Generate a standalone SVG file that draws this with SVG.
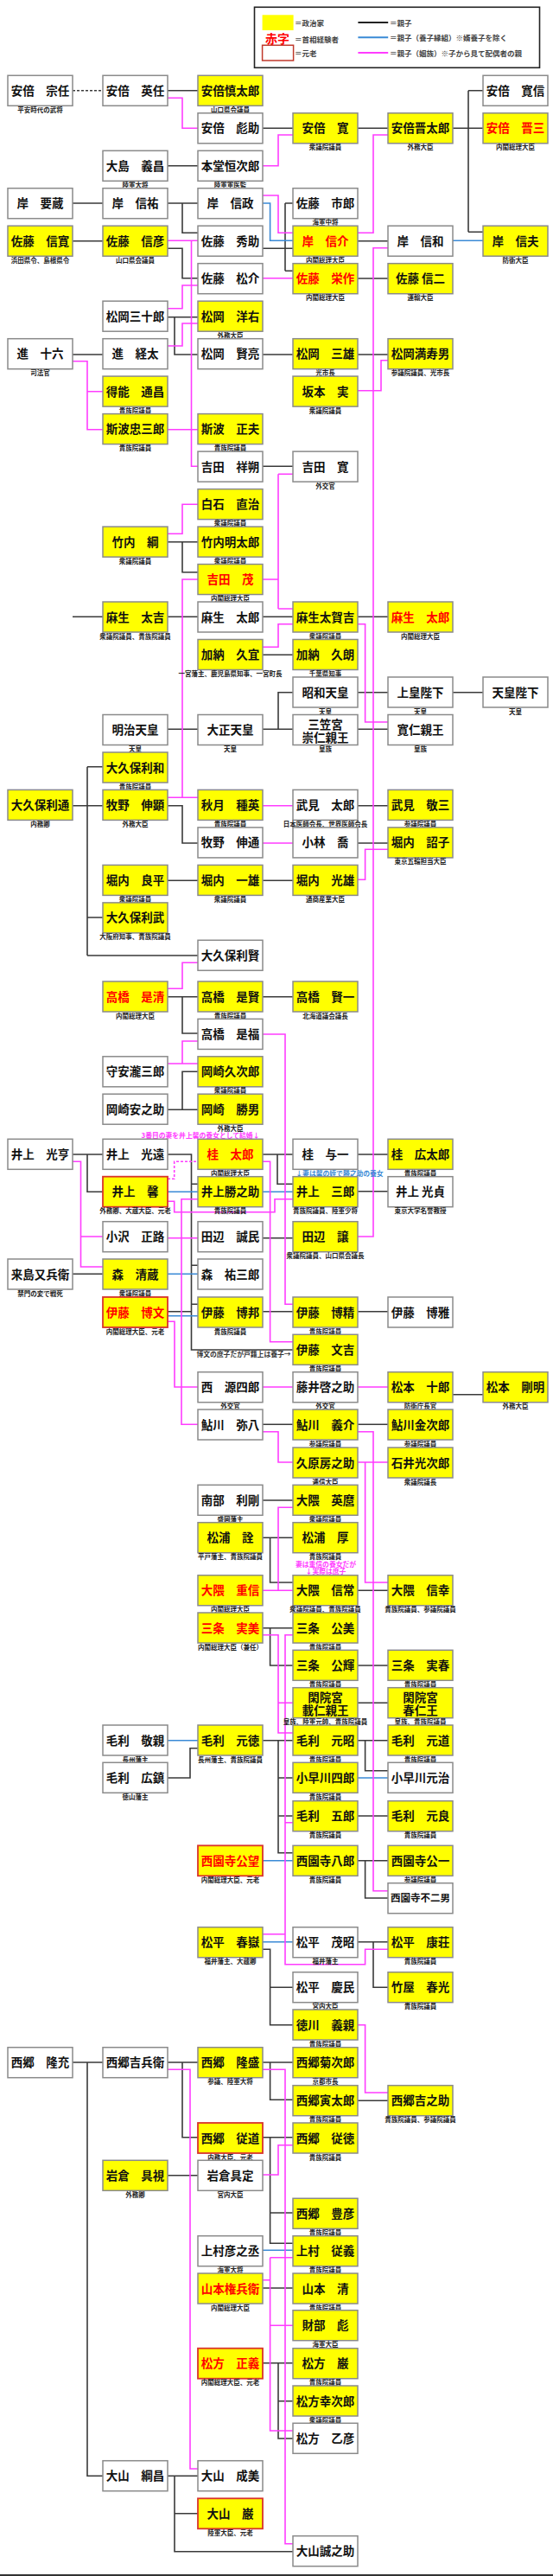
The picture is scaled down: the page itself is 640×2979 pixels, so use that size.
<svg xmlns="http://www.w3.org/2000/svg" width="640" height="2979" viewBox="0 0 640 2979">
<style>
rect.w{fill:#fff;stroke:#8a8a8a;stroke-width:1.5}
rect.y{fill:#ffff00;stroke:#8a8a8a;stroke-width:1.5}
rect.g{stroke:#d9342b;stroke-width:1.8}
text{font-family:"Noto Sans CJK JP","Noto Sans CJK SC",sans-serif;font-weight:bold;text-anchor:middle}
.t{font-size:13.5px;fill:#111}
.t6{font-size:11.5px;fill:#111}
.r{fill:#ff0000}
.l{font-size:7.5px;fill:#222}
.lg{font-size:8.5px;fill:#444;text-anchor:start}
.nt{font-size:7.8px}
path{fill:none;stroke-width:1.6}
.k{stroke:#3a3a3a}
.kd{stroke:#3a3a3a;stroke-dasharray:3 2}
.b{stroke:#3a8ad6}
.m{stroke:#ff3cff}
.md{stroke:#ff3cff;stroke-dasharray:3 2}
</style>
<g id="legend">
<rect x="294.5" y="8.3" width="330" height="70" fill="#fff" stroke="#222" stroke-width="1.6"/>
<rect x="303.6" y="17.3" width="36" height="17.7" fill="#ffff00"/>
<text class="lg" x="341" y="30">＝政治家</text>
<text x="321" y="50" style="font-size:14px;fill:#ff0000">赤字</text>
<text class="lg" x="341" y="48.5">＝首相経験者</text>
<rect x="303.6" y="52.3" width="36" height="17.7" fill="#fff" stroke="#c0392b" stroke-width="1.5"/>
<text class="lg" x="341" y="64.5">＝元老</text>
<line x1="414.4" y1="26" x2="449.2" y2="26" stroke="#222" stroke-width="2"/>
<text class="lg" x="451" y="29.5">＝親子</text>
<line x1="414.4" y1="43.3" x2="449.2" y2="43.3" stroke="#3a8ad6" stroke-width="2"/>
<text class="lg" x="451" y="46.8">＝親子（養子縁組）※婿養子を除く</text>
<line x1="414.4" y1="61" x2="449.2" y2="61" stroke="#ff3cff" stroke-width="2"/>
<text class="lg" x="451" y="64.5">＝親子（姻族）※子から見て配偶者の親</text>
</g>
<g id="connectors">
<path class="kd" d="M84 104.8H119"/>
<path class="k" d="M194 104.8H229 M304 148.3H339 M414 148.3H449 M524 148.3H559 M542 104.8V268.3 M542 104.8H559 M542 268.3H559 M194 191.7H229 M84 235H119 M194 235H229 M211 235V269.3H229 M304 287.3H339 M330 235V313.3 M330 235H339 M330 313.3H339 M414 278.7H449 M414 322H449 M84 278.7H119 M194 287.3H211V321.7H229 M194 366.7H229 M202 366.7V410H229 M84 410H119 M304 410H339 M414 410H449 M304 539.3H339 M194 626.7H229 M211 626.7V661.7H229 M84 713.3H119 M194 713.3H229 M304 713.3H339 M414 713.3H449 M304 757.3H339 M194 843.3H229 M304 843.3H339 M322 843.3V800.7H339 M414 800.7H449 M524 800.7H559 M414 843.3H449 M84 931.7H101 M101 886.7V1105 M101 886.7H119 M101 931.7H119 M101 1061H119 M101 1105H229 M194 931.7H211V975H229 M414 931.7H449 M414 975H449 M194 1018.3H229 M304 1018.3H339 M194 1152.7H229 M211 1152.7V1195H229 M304 1152.7H339 M194 1283.3H229 M211 1283.3V1239.3H229 M84 1335H119 M101 1335V1378.3H119 M194 1335H221.5V1561H339 M221.5 1369.3H229 M221.5 1463.3H229 M221.5 1508.3H229 M194 1516.7H221.5 M304 1335H339 M321 1335V1369.3H339 M414 1335H449 M414 1377.7H449 M304 1431.7H339 M84 1473.3H119 M304 1516.7H339 M414 1516.7H449 M524 1612.7H559 M304 1647.3H339 M414 1647.3H449 M304 1735H339 M304 1778.3H339 M312.6 1778.3V1830H339 M414 1839.3H449 M304 1882.7H339 M312.6 1882.7V1926H339 M414 1926H449 M414 1969.3H449 M194 2056H220V2021.7H229 M304 2012.7H339 M322 2012.7V2142.7H339 M322 2056H339 M322 2100H339 M414 2012.7H449 M422.6 2012.7V2047.7H449 M414 2100H449 M414 2151.7H449 M422.6 2151.7V2195H449 M304 2254.3H312.6V2341.7H339 M312.6 2298.3H339 M414 2245.7H449 M432 2245.7V2298.3H449 M84 2385H119 M101 2385V2863.3H119 M194 2385H229 M211 2385V2471.7H229 M304 2385H339 M312.6 2385V2428.3H339 M414 2429.3H449 M304 2471.7H339 M312.6 2471.7V2594.3H339 M312.6 2559H339 M194 2515.7H229 M304 2646H339 M304 2732.7H339 M322 2732.7V2820H339 M322 2776.7H339 M194 2863.3H229 M202 2863.3V2950.7H339 M202 2906.7H229"/>
<path class="b" d="M304 235H312.6V278.3H339 M524 278.3H559 M194 1378.3H229 M304 1378.3H339 M194 1473.3H229 M194 1521.7H229 M194 2012.7H229 M414 2056H449 M304 2151.7H339 M304 2245.7H339 M304 2602.3H339"/>
<path class="m" d="M194 113.3H211V148.3H229 M304 191.7H322V156H339 M414 269.3H432V156H449 M304 226H322V269.3H339 M304 321.7H339 M414 1430H432V286.7H449 M194 278.3H229 M221.5 278.3V539.3H229 M194 356.7H211V330H229 M194 400H211V374H229 M84 417.7H101V496.7H119 M101 452.7H119 M414 451.7H441V416.7H449 M194 496.7H229 M194 617.3H211V583.3H229 M194 922.3H229 M211 922.3V670H229 M304 670H322 M322 548.3V704 M322 548.3H339 M322 704H339 M304 748.3H322V721.7H339 M414 721.7H422.6V835H449 M304 931.7H339 M304 975H339 M414 1017.3H422.6V982.3H449 M194 1143.3H211V1113.3H229 M304 1196H330V1508.3H339 M194 1230H229 M211 1230V1204H229 M84 1343.3H93.5V1465H119 M93.5 1430H119 M194 1389.3H201.7V1401.7H318V1386.7H339 M229 1386.7H210V1647.3H229 M304 1343.3H312.6V1551.7H339 M194 1431.7H229 M194 1528.3H202V1604H229 M304 1604H339 M414 1604H449 M304 1655.7H322V1691H339 M414 1655.7H432V2186.7H449 M414 1691H449 M422.6 1691V1830H449 M304 1839.3H322V1743.3H339 M322 1839.3H339 M304 1890.7H322V2004H339 M322 1969.3H339 M339 1890.7H330V2271.7H422.6V2254.3H449 M330 2107.7H339 M304 2236.7H330 M414 2341.7H422.6V2420H449 M194 2393.3H220V2855H229 M304 2393.3H330V2941.7H339 M304 2515H322V2480.7H339 M304 2636.7H312.6 M312.6 2610.7V2811H339 M312.6 2610.7H339 M312.6 2689.3H339"/>
<path class="md" d="M194 1363.3H201.7V1343.3H229"/>
</g>
<g id="notes">
<text class="nt" x="232" y="1315.5" fill="#ff3cff">3番目の妻を井上馨の養女として結婚↓</text>
<text class="nt" x="393" y="1360" fill="#3a8ad6">↓妻は馨の姪で勝之助の養女</text>
<text class="nt" x="282" y="1569" fill="#333">博文の庶子だが戸籍上は養子→</text>
<text class="nt" x="377" y="1812" fill="#ff3cff">妻は重信の養女だが</text>
<text class="nt" x="377" y="1820.3" fill="#ff3cff">↓実際は庶子</text>
</g>
<g id="n001"><rect class="w" x="9" y="87.3" width="75" height="35"/><text class="t" x="46.5" y="109.8">安倍　宗任</text><text class="l" x="46.5" y="129.8">平安時代の武将</text></g>
<g id="n002"><rect class="w" x="119" y="87.3" width="75" height="35"/><text class="t" x="156.5" y="109.8">安倍　英任</text></g>
<g id="n003"><rect class="y" x="229" y="87.3" width="75" height="35"/><text class="t" x="266.5" y="109.8">安倍慎太郎</text><text class="l" x="266.5" y="129.8">山口県会議員</text></g>
<g id="n004"><rect class="w" x="559" y="87.3" width="75" height="35"/><text class="t" x="596.5" y="109.8">安倍　寛信</text></g>
<g id="n005"><rect class="w" x="229" y="130.8" width="75" height="35"/><text class="t" x="266.5" y="153.3">安倍　彪助</text></g>
<g id="n006"><rect class="y" x="339" y="130.8" width="75" height="35"/><text class="t" x="376.5" y="153.3">安倍　寛</text><text class="l" x="376.5" y="173.3">衆議院議員</text></g>
<g id="n007"><rect class="y" x="449" y="130.8" width="75" height="35"/><text class="t" x="486.5" y="153.3">安倍晋太郎</text><text class="l" x="486.5" y="173.3">外務大臣</text></g>
<g id="n008"><rect class="y" x="559" y="130.8" width="75" height="35"/><text class="t r" x="596.5" y="153.3">安倍　晋三</text><text class="l" x="596.5" y="173.3">内閣総理大臣</text></g>
<g id="n009"><rect class="w" x="119" y="174.3" width="75" height="35"/><text class="t" x="156.5" y="196.8">大島　義昌</text><text class="l" x="156.5" y="216.8">陸軍大将</text></g>
<g id="n010"><rect class="w" x="229" y="174.3" width="75" height="35"/><text class="t" x="266.5" y="196.8">本堂恒次郎</text><text class="l" x="266.5" y="216.8">陸軍軍医監</text></g>
<g id="n011"><rect class="w" x="9" y="217.7" width="75" height="35"/><text class="t" x="46.5" y="240.2">岸　要蔵</text></g>
<g id="n012"><rect class="w" x="119" y="217.7" width="75" height="35"/><text class="t" x="156.5" y="240.2">岸　信祐</text></g>
<g id="n013"><rect class="w" x="229" y="217.7" width="75" height="35"/><text class="t" x="266.5" y="240.2">岸　信政</text></g>
<g id="n014"><rect class="w" x="339" y="217.7" width="75" height="35"/><text class="t" x="376.5" y="240.2">佐藤　市郎</text><text class="l" x="376.5" y="260.2">海軍中将</text></g>
<g id="n015"><rect class="y" x="9" y="261.2" width="75" height="35"/><text class="t" x="46.5" y="283.7">佐藤　信寛</text><text class="l" x="46.5" y="303.7">浜田県令、島根県令</text></g>
<g id="n016"><rect class="y" x="119" y="261.2" width="75" height="35"/><text class="t" x="156.5" y="283.7">佐藤　信彦</text><text class="l" x="156.5" y="303.7">山口県会議員</text></g>
<g id="n017"><rect class="w" x="229" y="261.2" width="75" height="35"/><text class="t" x="266.5" y="283.7">佐藤　秀助</text></g>
<g id="n018"><rect class="y" x="339" y="261.2" width="75" height="35"/><text class="t r" x="376.5" y="283.7">岸　信介</text><text class="l" x="376.5" y="303.7">内閣総理大臣</text></g>
<g id="n019"><rect class="w" x="449" y="261.2" width="75" height="35"/><text class="t" x="486.5" y="283.7">岸　信和</text></g>
<g id="n020"><rect class="y" x="559" y="261.2" width="75" height="35"/><text class="t" x="596.5" y="283.7">岸　信夫</text><text class="l" x="596.5" y="303.7">防衛大臣</text></g>
<g id="n021"><rect class="w" x="229" y="304.7" width="75" height="35"/><text class="t" x="266.5" y="327.2">佐藤　松介</text></g>
<g id="n022"><rect class="y" x="339" y="304.7" width="75" height="35"/><text class="t r" x="376.5" y="327.2">佐藤　栄作</text><text class="l" x="376.5" y="347.2">内閣総理大臣</text></g>
<g id="n023"><rect class="y" x="449" y="304.7" width="75" height="35"/><text class="t" x="486.5" y="327.2">佐藤 信二</text><text class="l" x="486.5" y="347.2">運輸大臣</text></g>
<g id="n024"><rect class="w" x="119" y="348.2" width="75" height="35"/><text class="t" x="156.5" y="370.7">松岡三十郎</text></g>
<g id="n025"><rect class="y" x="229" y="348.2" width="75" height="35"/><text class="t" x="266.5" y="370.7">松岡　洋右</text><text class="l" x="266.5" y="390.7">外務大臣</text></g>
<g id="n026"><rect class="w" x="9" y="391.7" width="75" height="35"/><text class="t" x="46.5" y="414.2">進　十六</text><text class="l" x="46.5" y="434.2">司法官</text></g>
<g id="n027"><rect class="w" x="119" y="391.7" width="75" height="35"/><text class="t" x="156.5" y="414.2">進　経太</text></g>
<g id="n028"><rect class="w" x="229" y="391.7" width="75" height="35"/><text class="t" x="266.5" y="414.2">松岡　賢亮</text></g>
<g id="n029"><rect class="y" x="339" y="391.7" width="75" height="35"/><text class="t" x="376.5" y="414.2">松岡　三雄</text><text class="l" x="376.5" y="434.2">光市長</text></g>
<g id="n030"><rect class="y" x="449" y="391.7" width="75" height="35"/><text class="t" x="486.5" y="414.2">松岡満寿男</text><text class="l" x="486.5" y="434.2">参議院議員、光市長</text></g>
<g id="n031"><rect class="y" x="119" y="435.1" width="75" height="35"/><text class="t" x="156.5" y="457.6">得能　通昌</text><text class="l" x="156.5" y="477.6">貴族院議員</text></g>
<g id="n032"><rect class="y" x="339" y="435.1" width="75" height="35"/><text class="t" x="376.5" y="457.6">坂本　実</text><text class="l" x="376.5" y="477.6">衆議院議員</text></g>
<g id="n033"><rect class="y" x="119" y="478.6" width="75" height="35"/><text class="t" x="156.5" y="501.1">斯波忠三郎</text><text class="l" x="156.5" y="521.1">貴族院議員</text></g>
<g id="n034"><rect class="y" x="229" y="478.6" width="75" height="35"/><text class="t" x="266.5" y="501.1">斯波　正夫</text><text class="l" x="266.5" y="521.1">貴族院議員</text></g>
<g id="n035"><rect class="w" x="229" y="522.1" width="75" height="35"/><text class="t" x="266.5" y="544.6">吉田　祥朔</text></g>
<g id="n036"><rect class="w" x="339" y="522.1" width="75" height="35"/><text class="t" x="376.5" y="544.6">吉田　寛</text><text class="l" x="376.5" y="564.6">外交官</text></g>
<g id="n037"><rect class="y" x="229" y="565.6" width="75" height="35"/><text class="t" x="266.5" y="588.1">白石　直治</text><text class="l" x="266.5" y="608.1">衆議院議員</text></g>
<g id="n038"><rect class="y" x="119" y="609.1" width="75" height="35"/><text class="t" x="156.5" y="631.6">竹内　綱</text><text class="l" x="156.5" y="651.6">衆議院議員</text></g>
<g id="n039"><rect class="y" x="229" y="609.1" width="75" height="35"/><text class="t" x="266.5" y="631.6">竹内明太郎</text><text class="l" x="266.5" y="651.6">衆議院議員</text></g>
<g id="n040"><rect class="y" x="229" y="652.5" width="75" height="35"/><text class="t r" x="266.5" y="675">吉田　茂</text><text class="l" x="266.5" y="695">内閣総理大臣</text></g>
<g id="n041"><rect class="y" x="119" y="696" width="75" height="35"/><text class="t" x="156.5" y="718.5">麻生　太吉</text><text class="l" x="156.5" y="738.5">衆議院議員、貴族院議員</text></g>
<g id="n042"><rect class="w" x="229" y="696" width="75" height="35"/><text class="t" x="266.5" y="718.5">麻生　太郎</text></g>
<g id="n043"><rect class="y" x="339" y="696" width="75" height="35"/><text class="t" x="376.5" y="718.5">麻生太賀吉</text><text class="l" x="376.5" y="738.5">衆議院議員</text></g>
<g id="n044"><rect class="y" x="449" y="696" width="75" height="35"/><text class="t r" x="486.5" y="718.5">麻生　太郎</text><text class="l" x="486.5" y="738.5">内閣総理大臣</text></g>
<g id="n045"><rect class="y" x="229" y="739.5" width="75" height="35"/><text class="t" x="266.5" y="762">加納　久宜</text><text class="l" x="266.5" y="782">一宮藩主、鹿児島県知事、一宮町長</text></g>
<g id="n046"><rect class="y" x="339" y="739.5" width="75" height="35"/><text class="t" x="376.5" y="762">加納　久朗</text><text class="l" x="376.5" y="782">千葉県知事</text></g>
<g id="n047"><rect class="w" x="339" y="783" width="75" height="35"/><text class="t" x="376.5" y="805.5">昭和天皇</text><text class="l" x="376.5" y="825.5">天皇</text></g>
<g id="n048"><rect class="w" x="449" y="783" width="75" height="35"/><text class="t" x="486.5" y="805.5">上皇陛下</text><text class="l" x="486.5" y="825.5">天皇</text></g>
<g id="n049"><rect class="w" x="559" y="783" width="75" height="35"/><text class="t" x="596.5" y="805.5">天皇陛下</text><text class="l" x="596.5" y="825.5">天皇</text></g>
<g id="n050"><rect class="w" x="119" y="826.5" width="75" height="35"/><text class="t" x="156.5" y="849">明治天皇</text><text class="l" x="156.5" y="869">天皇</text></g>
<g id="n051"><rect class="w" x="229" y="826.5" width="75" height="35"/><text class="t" x="266.5" y="849">大正天皇</text><text class="l" x="266.5" y="869">天皇</text></g>
<g id="n052"><rect class="w" x="339" y="826.5" width="75" height="35"/><text class="t" x="376.5" y="842.5">三笠宮</text><text class="t" x="376.5" y="857.5">崇仁親王</text><text class="l" x="376.5" y="869">皇族</text></g>
<g id="n053"><rect class="w" x="449" y="826.5" width="75" height="35"/><text class="t" x="486.5" y="849">寛仁親王</text><text class="l" x="486.5" y="869">皇族</text></g>
<g id="n054"><rect class="y" x="119" y="870" width="75" height="35"/><text class="t" x="156.5" y="892.5">大久保利和</text><text class="l" x="156.5" y="912.5">貴族院議員</text></g>
<g id="n055"><rect class="y" x="9" y="913.4" width="75" height="35"/><text class="t" x="46.5" y="935.9">大久保利通</text><text class="l" x="46.5" y="955.9">内務卿</text></g>
<g id="n056"><rect class="y" x="119" y="913.4" width="75" height="35"/><text class="t" x="156.5" y="935.9">牧野　伸顕</text><text class="l" x="156.5" y="955.9">外務大臣</text></g>
<g id="n057"><rect class="y" x="229" y="913.4" width="75" height="35"/><text class="t" x="266.5" y="935.9">秋月　種英</text><text class="l" x="266.5" y="955.9">貴族院議員</text></g>
<g id="n058"><rect class="w" x="339" y="913.4" width="75" height="35"/><text class="t" x="376.5" y="935.9">武見　太郎</text><text class="l" x="376.5" y="955.9">日本医師会長、世界医師会長</text></g>
<g id="n059"><rect class="y" x="449" y="913.4" width="75" height="35"/><text class="t" x="486.5" y="935.9">武見　敬三</text><text class="l" x="486.5" y="955.9">参議院議員</text></g>
<g id="n060"><rect class="w" x="229" y="956.9" width="75" height="35"/><text class="t" x="266.5" y="979.4">牧野　伸通</text></g>
<g id="n061"><rect class="w" x="339" y="956.9" width="75" height="35"/><text class="t" x="376.5" y="979.4">小林　喬</text></g>
<g id="n062"><rect class="y" x="449" y="956.9" width="75" height="35"/><text class="t" x="486.5" y="979.4">堀内　詔子</text><text class="l" x="486.5" y="999.4">東京五輪担当大臣</text></g>
<g id="n063"><rect class="y" x="119" y="1000.4" width="75" height="35"/><text class="t" x="156.5" y="1022.9">堀内　良平</text><text class="l" x="156.5" y="1042.9">衆議院議員</text></g>
<g id="n064"><rect class="y" x="229" y="1000.4" width="75" height="35"/><text class="t" x="266.5" y="1022.9">堀内　一雄</text><text class="l" x="266.5" y="1042.9">衆議院議員</text></g>
<g id="n065"><rect class="y" x="339" y="1000.4" width="75" height="35"/><text class="t" x="376.5" y="1022.9">堀内　光雄</text><text class="l" x="376.5" y="1042.9">通商産業大臣</text></g>
<g id="n066"><rect class="y" x="119" y="1043.9" width="75" height="35"/><text class="t" x="156.5" y="1066.4">大久保利武</text><text class="l" x="156.5" y="1086.4">大阪府知事、貴族院議員</text></g>
<g id="n067"><rect class="w" x="229" y="1087.3" width="75" height="35"/><text class="t" x="266.5" y="1109.8">大久保利賢</text></g>
<g id="n068"><rect class="y" x="119" y="1135" width="75" height="35"/><text class="t r" x="156.5" y="1157.5">高橋　是清</text><text class="l" x="156.5" y="1177.5">内閣総理大臣</text></g>
<g id="n069"><rect class="y" x="229" y="1135" width="75" height="35"/><text class="t" x="266.5" y="1157.5">高橋　是賢</text><text class="l" x="266.5" y="1177.5">貴族院議員</text></g>
<g id="n070"><rect class="y" x="339" y="1135" width="75" height="35"/><text class="t" x="376.5" y="1157.5">高橋　賢一</text><text class="l" x="376.5" y="1177.5">北海道議会議長</text></g>
<g id="n071"><rect class="w" x="229" y="1178.4" width="75" height="35"/><text class="t" x="266.5" y="1200.9">高橋　是福</text></g>
<g id="n072"><rect class="w" x="119" y="1221.8" width="75" height="35"/><text class="t" x="156.5" y="1244.3">守安瀧三郎</text></g>
<g id="n073"><rect class="y" x="229" y="1221.8" width="75" height="35"/><text class="t" x="266.5" y="1244.3">岡崎久次郎</text><text class="l" x="266.5" y="1264.3">衆議院議員</text></g>
<g id="n074"><rect class="w" x="119" y="1265.2" width="75" height="35"/><text class="t" x="156.5" y="1287.7">岡崎安之助</text></g>
<g id="n075"><rect class="y" x="229" y="1265.2" width="75" height="35"/><text class="t" x="266.5" y="1287.7">岡崎　勝男</text><text class="l" x="266.5" y="1307.7">外務大臣</text></g>
<g id="n076"><rect class="w" x="9" y="1317.3" width="75" height="35"/><text class="t" x="46.5" y="1339.8">井上　光亨</text></g>
<g id="n077"><rect class="w" x="119" y="1317.3" width="75" height="35"/><text class="t" x="156.5" y="1339.8">井上　光遠</text></g>
<g id="n078"><rect class="y" x="229" y="1317.3" width="75" height="35"/><text class="t r" x="266.5" y="1339.8">桂　太郎</text><text class="l" x="266.5" y="1359.8">内閣総理大臣</text></g>
<g id="n079"><rect class="w" x="339" y="1317.3" width="75" height="35"/><text class="t" x="376.5" y="1339.8">桂　与一</text></g>
<g id="n080"><rect class="y" x="449" y="1317.3" width="75" height="35"/><text class="t" x="486.5" y="1339.8">桂　広太郎</text><text class="l" x="486.5" y="1359.8">貴族院議員</text></g>
<g id="n081"><rect class="y g" x="119" y="1360.7" width="75" height="35"/><text class="t" x="156.5" y="1383.2">井上　馨</text><text class="l" x="156.5" y="1403.2">外務卿、大蔵大臣、元老</text></g>
<g id="n082"><rect class="y" x="229" y="1360.7" width="75" height="35"/><text class="t" x="266.5" y="1383.2">井上勝之助</text><text class="l" x="266.5" y="1403.2">貴族院議員</text></g>
<g id="n083"><rect class="y" x="339" y="1360.7" width="75" height="35"/><text class="t" x="376.5" y="1383.2">井上　三郎</text><text class="l" x="376.5" y="1403.2">貴族院議員、陸軍少将</text></g>
<g id="n084"><rect class="w" x="449" y="1360.7" width="75" height="35"/><text class="t" x="486.5" y="1383.2">井上 光貞</text><text class="l" x="486.5" y="1403.2">東京大学名誉教授</text></g>
<g id="n085"><rect class="w" x="119" y="1412.7" width="75" height="35"/><text class="t" x="156.5" y="1435.2">小沢　正路</text></g>
<g id="n086"><rect class="w" x="229" y="1412.7" width="75" height="35"/><text class="t" x="266.5" y="1435.2">田辺　誠民</text></g>
<g id="n087"><rect class="y" x="339" y="1412.7" width="75" height="35"/><text class="t" x="376.5" y="1435.2">田辺　譲</text><text class="l" x="376.5" y="1455.2">衆議院議員、山口県会議長</text></g>
<g id="n088"><rect class="w" x="9" y="1456" width="75" height="35"/><text class="t" x="46.5" y="1478.5">来島又兵衛</text><text class="l" x="46.5" y="1498.5">禁門の変で戦死</text></g>
<g id="n089"><rect class="y" x="119" y="1456" width="75" height="35"/><text class="t" x="156.5" y="1478.5">森　清蔵</text><text class="l" x="156.5" y="1498.5">衆議院議員</text></g>
<g id="n090"><rect class="w" x="229" y="1456" width="75" height="35"/><text class="t" x="266.5" y="1478.5">森　祐三郎</text></g>
<g id="n091"><rect class="y g" x="119" y="1500" width="75" height="35"/><text class="t r" x="156.5" y="1522.5">伊藤　博文</text><text class="l" x="156.5" y="1542.5">内閣総理大臣、元老</text></g>
<g id="n092"><rect class="y" x="229" y="1500" width="75" height="35"/><text class="t" x="266.5" y="1522.5">伊藤　博邦</text><text class="l" x="266.5" y="1542.5">貴族院議員</text></g>
<g id="n093"><rect class="y" x="339" y="1500" width="75" height="35"/><text class="t" x="376.5" y="1522.5">伊藤　博精</text><text class="l" x="376.5" y="1542.5">貴族院議員</text></g>
<g id="n094"><rect class="w" x="449" y="1500" width="75" height="35"/><text class="t" x="486.5" y="1522.5">伊藤　博雅</text></g>
<g id="n095"><rect class="y" x="339" y="1543.3" width="75" height="35"/><text class="t" x="376.5" y="1565.8">伊藤　文吉</text><text class="l" x="376.5" y="1585.8">貴族院議員</text></g>
<g id="n096"><rect class="w" x="229" y="1586.7" width="75" height="35"/><text class="t" x="266.5" y="1609.2">西　源四郎</text><text class="l" x="266.5" y="1629.2">外交官</text></g>
<g id="n097"><rect class="w" x="339" y="1586.7" width="75" height="35"/><text class="t" x="376.5" y="1609.2">藤井啓之助</text><text class="l" x="376.5" y="1629.2">外交官</text></g>
<g id="n098"><rect class="y" x="449" y="1586.7" width="75" height="35"/><text class="t" x="486.5" y="1609.2">松本　十郎</text><text class="l" x="486.5" y="1629.2">防衛庁長官</text></g>
<g id="n099"><rect class="y" x="559" y="1586.7" width="75" height="35"/><text class="t" x="596.5" y="1609.2">松本　剛明</text><text class="l" x="596.5" y="1629.2">外務大臣</text></g>
<g id="n100"><rect class="w" x="229" y="1630" width="75" height="35"/><text class="t" x="266.5" y="1652.5">鮎川　弥八</text></g>
<g id="n101"><rect class="y" x="339" y="1630" width="75" height="35"/><text class="t" x="376.5" y="1652.5">鮎川　義介</text><text class="l" x="376.5" y="1672.5">参議院議員</text></g>
<g id="n102"><rect class="y" x="449" y="1630" width="75" height="35"/><text class="t" x="486.5" y="1652.5">鮎川金次郎</text><text class="l" x="486.5" y="1672.5">参議院議員</text></g>
<g id="n103"><rect class="y" x="339" y="1674" width="75" height="35"/><text class="t" x="376.5" y="1696.5">久原房之助</text><text class="l" x="376.5" y="1716.5">逓信大臣</text></g>
<g id="n104"><rect class="y" x="449" y="1674" width="75" height="35"/><text class="t" x="486.5" y="1696.5">石井光次郎</text><text class="l" x="486.5" y="1716.5">衆議院議長</text></g>
<g id="n105"><rect class="w" x="229" y="1717.3" width="75" height="35"/><text class="t" x="266.5" y="1739.8">南部　利剛</text><text class="l" x="266.5" y="1759.8">盛岡藩主</text></g>
<g id="n106"><rect class="y" x="339" y="1717.3" width="75" height="35"/><text class="t" x="376.5" y="1739.8">大隈　英麿</text><text class="l" x="376.5" y="1759.8">衆議院議員</text></g>
<g id="n107"><rect class="y" x="229" y="1760.7" width="75" height="35"/><text class="t" x="266.5" y="1783.2">松浦　詮</text><text class="l" x="266.5" y="1803.2">平戸藩主、貴族院議員</text></g>
<g id="n108"><rect class="y" x="339" y="1760.7" width="75" height="35"/><text class="t" x="376.5" y="1783.2">松浦　厚</text><text class="l" x="376.5" y="1803.2">貴族院議員</text></g>
<g id="n109"><rect class="y" x="229" y="1821.7" width="75" height="35"/><text class="t r" x="266.5" y="1844.2">大隈　重信</text><text class="l" x="266.5" y="1864.2">内閣総理大臣</text></g>
<g id="n110"><rect class="y" x="339" y="1821.7" width="75" height="35"/><text class="t" x="376.5" y="1844.2">大隈　信常</text><text class="l" x="376.5" y="1864.2">衆議院議員、貴族院議員</text></g>
<g id="n111"><rect class="y" x="449" y="1821.7" width="75" height="35"/><text class="t" x="486.5" y="1844.2">大隈　信幸</text><text class="l" x="486.5" y="1864.2">貴族院議員、参議院議員</text></g>
<g id="n112"><rect class="y" x="229" y="1865" width="75" height="35"/><text class="t r" x="266.5" y="1887.5">三条　実美</text><text class="l" x="266.5" y="1907.5">内閣総理大臣（兼任）</text></g>
<g id="n113"><rect class="y" x="339" y="1865" width="75" height="35"/><text class="t" x="376.5" y="1887.5">三条　公美</text><text class="l" x="376.5" y="1907.5">貴族院議員</text></g>
<g id="n114"><rect class="y" x="339" y="1908.3" width="75" height="35"/><text class="t" x="376.5" y="1930.8">三条　公輝</text><text class="l" x="376.5" y="1950.8">貴族院議員</text></g>
<g id="n115"><rect class="y" x="449" y="1908.3" width="75" height="35"/><text class="t" x="486.5" y="1930.8">三条　実春</text><text class="l" x="486.5" y="1950.8">貴族院議員</text></g>
<g id="n116"><rect class="y" x="339" y="1951.7" width="75" height="35"/><text class="t" x="376.5" y="1967.7">閑院宮</text><text class="t" x="376.5" y="1982.7">載仁親王</text><text class="l" x="376.5" y="1994.2">皇族、陸軍元帥、貴族院議員</text></g>
<g id="n117"><rect class="y" x="449" y="1951.7" width="75" height="35"/><text class="t" x="486.5" y="1967.7">閑院宮</text><text class="t" x="486.5" y="1982.7">春仁王</text><text class="l" x="486.5" y="1994.2">皇族、貴族院議員</text></g>
<g id="n118"><rect class="w" x="119" y="1995" width="75" height="35"/><text class="t" x="156.5" y="2017.5">毛利　敬親</text><text class="l" x="156.5" y="2037.5">長州藩主</text></g>
<g id="n119"><rect class="y" x="229" y="1995" width="75" height="35"/><text class="t" x="266.5" y="2017.5">毛利　元徳</text><text class="l" x="266.5" y="2037.5">長州藩主、貴族院議員</text></g>
<g id="n120"><rect class="y" x="339" y="1995" width="75" height="35"/><text class="t" x="376.5" y="2017.5">毛利　元昭</text><text class="l" x="376.5" y="2037.5">貴族院議員</text></g>
<g id="n121"><rect class="y" x="449" y="1995" width="75" height="35"/><text class="t" x="486.5" y="2017.5">毛利　元道</text><text class="l" x="486.5" y="2037.5">貴族院議員</text></g>
<g id="n122"><rect class="w" x="119" y="2038.3" width="75" height="35"/><text class="t" x="156.5" y="2060.8">毛利　広鎮</text><text class="l" x="156.5" y="2080.8">徳山藩主</text></g>
<g id="n123"><rect class="y" x="339" y="2038.3" width="75" height="35"/><text class="t" x="376.5" y="2060.8">小早川四郎</text><text class="l" x="376.5" y="2080.8">貴族院議員</text></g>
<g id="n124"><rect class="w" x="449" y="2038.3" width="75" height="35"/><text class="t" x="486.5" y="2060.8">小早川元治</text></g>
<g id="n125"><rect class="y" x="339" y="2082.7" width="75" height="35"/><text class="t" x="376.5" y="2105.2">毛利　五郎</text><text class="l" x="376.5" y="2125.2">貴族院議員</text></g>
<g id="n126"><rect class="y" x="449" y="2082.7" width="75" height="35"/><text class="t" x="486.5" y="2105.2">毛利　元良</text><text class="l" x="486.5" y="2125.2">貴族院議員</text></g>
<g id="n127"><rect class="y g" x="229" y="2134.3" width="75" height="35"/><text class="t r" x="266.5" y="2156.8">西園寺公望</text><text class="l" x="266.5" y="2176.8">内閣総理大臣、元老</text></g>
<g id="n128"><rect class="y" x="339" y="2134.3" width="75" height="35"/><text class="t" x="376.5" y="2156.8">西園寺八郎</text><text class="l" x="376.5" y="2176.8">貴族院議員</text></g>
<g id="n129"><rect class="y" x="449" y="2134.3" width="75" height="35"/><text class="t" x="486.5" y="2156.8">西園寺公一</text><text class="l" x="486.5" y="2176.8">参議院議員</text></g>
<g id="n130"><rect class="w" x="449" y="2177.7" width="75" height="35"/><text class="t6" x="486.5" y="2199.4">西園寺不二男</text></g>
<g id="n131"><rect class="y" x="229" y="2228.7" width="75" height="35"/><text class="t" x="266.5" y="2251.2">松平　春嶽</text><text class="l" x="266.5" y="2271.2">福井藩主、大蔵卿</text></g>
<g id="n132"><rect class="w" x="339" y="2228.7" width="75" height="35"/><text class="t" x="376.5" y="2251.2">松平　茂昭</text><text class="l" x="376.5" y="2271.2">福井藩主</text></g>
<g id="n133"><rect class="y" x="449" y="2228.7" width="75" height="35"/><text class="t" x="486.5" y="2251.2">松平　康荘</text><text class="l" x="486.5" y="2271.2">貴族院議員</text></g>
<g id="n134"><rect class="w" x="339" y="2280.7" width="75" height="35"/><text class="t" x="376.5" y="2303.2">松平　慶民</text><text class="l" x="376.5" y="2323.2">宮内大臣</text></g>
<g id="n135"><rect class="y" x="449" y="2280.7" width="75" height="35"/><text class="t" x="486.5" y="2303.2">竹屋　春光</text><text class="l" x="486.5" y="2323.2">貴族院議員</text></g>
<g id="n136"><rect class="y" x="339" y="2324" width="75" height="35"/><text class="t" x="376.5" y="2346.5">徳川　義親</text><text class="l" x="376.5" y="2366.5">貴族院議員</text></g>
<g id="n137"><rect class="w" x="9" y="2367.7" width="75" height="35"/><text class="t" x="46.5" y="2390.2">西郷　隆充</text></g>
<g id="n138"><rect class="w" x="119" y="2367.7" width="75" height="35"/><text class="t" x="156.5" y="2390.2">西郷吉兵衛</text></g>
<g id="n139"><rect class="y" x="229" y="2367.7" width="75" height="35"/><text class="t" x="266.5" y="2390.2">西郷　隆盛</text><text class="l" x="266.5" y="2410.2">参議、陸軍大将</text></g>
<g id="n140"><rect class="y" x="339" y="2367.7" width="75" height="35"/><text class="t" x="376.5" y="2390.2">西郷菊次郎</text><text class="l" x="376.5" y="2410.2">京都市長</text></g>
<g id="n141"><rect class="y" x="339" y="2411.7" width="75" height="35"/><text class="t" x="376.5" y="2434.2">西郷寅太郎</text><text class="l" x="376.5" y="2454.2">貴族院議員</text></g>
<g id="n142"><rect class="y" x="449" y="2411.7" width="75" height="35"/><text class="t" x="486.5" y="2434.2">西郷吉之助</text><text class="l" x="486.5" y="2454.2">貴族院議員、参議院議員</text></g>
<g id="n143"><rect class="y g" x="229" y="2455" width="75" height="35"/><text class="t" x="266.5" y="2477.5">西郷　従道</text><text class="l" x="266.5" y="2497.5">内務大臣、元老</text></g>
<g id="n144"><rect class="y" x="339" y="2455" width="75" height="35"/><text class="t" x="376.5" y="2477.5">西郷　従徳</text><text class="l" x="376.5" y="2497.5">貴族院議員</text></g>
<g id="n145"><rect class="y" x="119" y="2498.3" width="75" height="35"/><text class="t" x="156.5" y="2520.8">岩倉　具視</text><text class="l" x="156.5" y="2540.8">外務卿</text></g>
<g id="n146"><rect class="w" x="229" y="2498.3" width="75" height="35"/><text class="t" x="266.5" y="2520.8">岩倉具定</text><text class="l" x="266.5" y="2540.8">宮内大臣</text></g>
<g id="n147"><rect class="y" x="339" y="2542.3" width="75" height="35"/><text class="t" x="376.5" y="2564.8">西郷　豊彦</text><text class="l" x="376.5" y="2584.8">貴族院議員</text></g>
<g id="n148"><rect class="w" x="229" y="2585.7" width="75" height="35"/><text class="t" x="266.5" y="2608.2">上村彦之丞</text><text class="l" x="266.5" y="2628.2">海軍大将</text></g>
<g id="n149"><rect class="y" x="339" y="2585.7" width="75" height="35"/><text class="t" x="376.5" y="2608.2">上村　従義</text><text class="l" x="376.5" y="2628.2">貴族院議員</text></g>
<g id="n150"><rect class="y" x="229" y="2629" width="75" height="35"/><text class="t r" x="266.5" y="2651.5">山本権兵衛</text><text class="l" x="266.5" y="2671.5">内閣総理大臣</text></g>
<g id="n151"><rect class="y" x="339" y="2629" width="75" height="35"/><text class="t" x="376.5" y="2651.5">山本　清</text><text class="l" x="376.5" y="2671.5">貴族院議員</text></g>
<g id="n152"><rect class="y" x="339" y="2671.7" width="75" height="35"/><text class="t" x="376.5" y="2694.2">財部　彪</text><text class="l" x="376.5" y="2714.2">海軍大臣</text></g>
<g id="n153"><rect class="y g" x="229" y="2715.7" width="75" height="35"/><text class="t r" x="266.5" y="2738.2">松方　正義</text><text class="l" x="266.5" y="2758.2">内閣総理大臣、元老</text></g>
<g id="n154"><rect class="y" x="339" y="2715.7" width="75" height="35"/><text class="t" x="376.5" y="2738.2">松方　巌</text><text class="l" x="376.5" y="2758.2">貴族院議員</text></g>
<g id="n155"><rect class="y" x="339" y="2759" width="75" height="35"/><text class="t" x="376.5" y="2781.5">松方幸次郎</text><text class="l" x="376.5" y="2801.5">衆議院議員</text></g>
<g id="n156"><rect class="w" x="339" y="2802.3" width="75" height="35"/><text class="t" x="376.5" y="2824.8">松方　乙彦</text></g>
<g id="n157"><rect class="w" x="119" y="2845.7" width="75" height="35"/><text class="t" x="156.5" y="2868.2">大山　綱昌</text></g>
<g id="n158"><rect class="w" x="229" y="2845.7" width="75" height="35"/><text class="t" x="266.5" y="2868.2">大山　成美</text></g>
<g id="n159"><rect class="y g" x="229" y="2889.3" width="75" height="35"/><text class="t" x="266.5" y="2911.8">大山　巌</text><text class="l" x="266.5" y="2931.8">陸軍大臣、元老</text></g>
<g id="n160"><rect class="w" x="339" y="2932.7" width="75" height="35"/><text class="t" x="376.5" y="2955.2">大山誠之助</text></g>
<rect x="0" y="2977" width="640" height="2" fill="#333"/>
</svg>
